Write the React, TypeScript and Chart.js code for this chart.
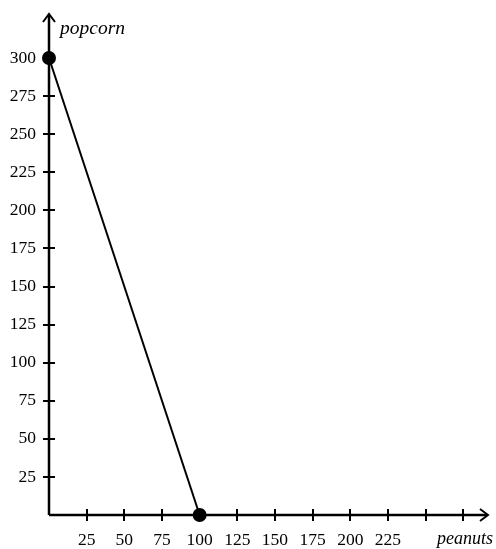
import React, { useEffect, useRef } from "react";
import { Chart, registerables } from "chart.js";

Chart.register(...registerables);

const peanuts = [0, 100];
const popcorn = [300, 0];
const xTicks = [25, 50, 75, 100, 125, 150, 175, 200, 225, 250, 275];
const xLabeled = [25, 50, 75, 100, 125, 150, 175, 200, 225];
const yTicks = [25, 50, 75, 100, 125, 150, 175, 200, 225, 250, 275, 300];
const xTitle = "peanuts";
const yTitle = "popcorn";

const FONT = "'Liberation Serif', 'Times New Roman', serif";

const axesPlugin = {
  id: "econAxes",
  beforeDatasetsDraw(chart: any) {
    const { ctx, chartArea, scales } = chart;
    const x = scales.x;
    const y = scales.y;
    const ox = x.getPixelForValue(0);
    const oy = y.getPixelForValue(0);
    ctx.save();
    ctx.strokeStyle = "#000";
    ctx.lineCap = "butt";
    ctx.lineWidth = 2.5;
    ctx.beginPath();
    ctx.moveTo(ox, oy);
    ctx.lineTo(ox, chartArea.top + 1);
    ctx.moveTo(ox, oy);
    ctx.lineTo(chartArea.right - 1, oy);
    ctx.stroke();
    ctx.lineWidth = 2;
    ctx.beginPath();
    ctx.moveTo(ox - 6, chartArea.top + 8);
    ctx.lineTo(ox, chartArea.top);
    ctx.lineTo(ox + 6, chartArea.top + 8);
    ctx.moveTo(chartArea.right - 8, oy - 6);
    ctx.lineTo(chartArea.right, oy);
    ctx.lineTo(chartArea.right - 8, oy + 6);
    ctx.stroke();
    ctx.lineWidth = 2;
    ctx.beginPath();
    xTicks.forEach((v) => {
      const px = Math.round(x.getPixelForValue(v));
      ctx.moveTo(px, oy - 6);
      ctx.lineTo(px, oy + 6);
    });
    yTicks.forEach((v) => {
      const py = Math.round(y.getPixelForValue(v));
      ctx.moveTo(ox - 6, py);
      ctx.lineTo(ox + 6, py);
    });
    ctx.stroke();
    ctx.fillStyle = "#000";
    ctx.textBaseline = "alphabetic";
    ctx.textAlign = "left";
    ctx.font = "italic 19.5px " + FONT;
    ctx.fillText(yTitle, ox + 11, chartArea.top + 20);
    ctx.textAlign = "right";
    ctx.font = "italic 18px " + FONT;
    ctx.fillText(xTitle, chartArea.right + 5, oy + 29);
    ctx.restore();
  },
};

export default function App() {
  const ref = useRef<HTMLCanvasElement | null>(null);
  useEffect(() => {
    if (!ref.current) return;
    const chart = new Chart(ref.current, {
      type: "scatter",
      data: {
        datasets: [
          {
            data: peanuts.map((v, i) => ({ x: v, y: popcorn[i] })),
            showLine: true,
            borderColor: "#000",
            backgroundColor: "#000",
            borderWidth: 2,
            pointRadius: 6,
            pointBackgroundColor: "#000",
            pointBorderColor: "#000",
            clip: false,
          } as any,
        ],
      },
      options: {
        animation: false,
        responsive: false,
        maintainAspectRatio: false,
        layout: { padding: { top: 14, right: 4, left: 0, bottom: 0 } },
        plugins: { legend: { display: false }, tooltip: { enabled: false } },
        scales: {
          x: {
            type: "linear",
            min: 0,
            max: 291.4,
            grid: { display: false, drawTicks: false },
            border: { display: false },
            afterFit: (s: any) => {
              s.height = 34;
              s.paddingLeft = 0;
              s.paddingRight = 0;
            },
            afterBuildTicks: (s: any) => {
              s.ticks = xLabeled.map((v) => ({ value: v }));
            },
            ticks: {
              padding: 15,
              color: "#000",
              font: { family: FONT, size: 17.5 },
              maxRotation: 0,
              autoSkip: false,
            },
          },
          y: {
            type: "linear",
            min: 0,
            max: 328.9,
            grid: { display: false, drawTicks: false },
            border: { display: false },
            afterFit: (s: any) => {
              s.width = 49;
              s.paddingTop = 0;
              s.paddingBottom = 0;
            },
            afterBuildTicks: (s: any) => {
              s.ticks = yTicks.map((v) => ({ value: v }));
            },
            ticks: {
              padding: 13,
              color: "#000",
              font: { family: FONT, size: 17.5 },
              autoSkip: false,
            },
          },
        },
      },
      plugins: [axesPlugin],
    });
    return () => chart.destroy();
  }, []);
  return (
    <div style={{ position: "fixed", left: 0, top: 0, width: 496, height: 549, background: "#fff" }}>
      <canvas ref={ref} width={496} height={549} style={{ width: 496, height: 549, display: "block" }} />
    </div>
  );
}
